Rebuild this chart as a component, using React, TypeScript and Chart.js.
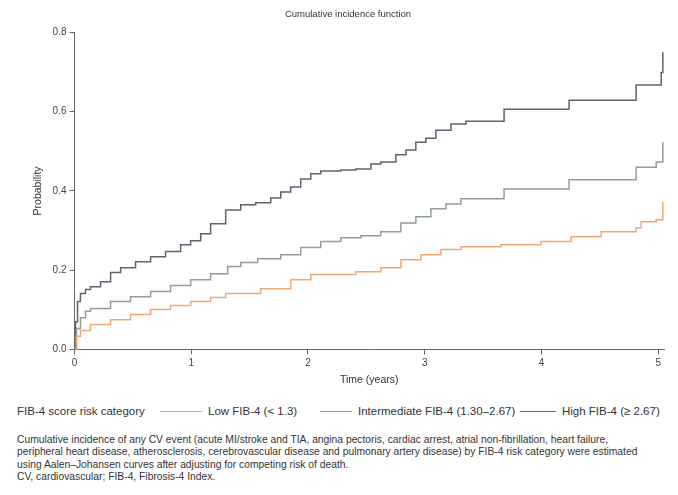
import React, { useEffect, useRef } from "react";
import { Chart, registerables } from "chart.js";

Chart.register(...registerables);

const chartTitle = "Cumulative incidence function";
const xTitle = "Time (years)";
const yTitle = "Probability";
const xTicks = [0, 1, 2, 3, 4, 5];
const yTicks = [0, 0.2, 0.4, 0.6, 0.8];

const highTime = [0, 0.009, 0.026, 0.051, 0.094, 0.137, 0.223, 0.309, 0.395, 0.523, 0.652, 0.78, 0.909, 0.995, 1.081, 1.166, 1.295, 1.424, 1.552, 1.681, 1.767, 1.852, 1.938, 2.024, 2.11, 2.281, 2.41, 2.539, 2.624, 2.753, 2.839, 2.924, 3.01, 3.096, 3.225, 3.353, 3.679, 3.68, 4.237, 4.811, 4.94, 5.026, 5.04];
const highCif = [0, 0.07, 0.121, 0.141, 0.151, 0.158, 0.171, 0.194, 0.206, 0.221, 0.234, 0.247, 0.264, 0.274, 0.292, 0.317, 0.352, 0.365, 0.37, 0.382, 0.397, 0.41, 0.43, 0.443, 0.45, 0.453, 0.455, 0.468, 0.473, 0.491, 0.503, 0.523, 0.533, 0.553, 0.569, 0.576, 0.579, 0.606, 0.629, 0.667, 0.667, 0.699, 0.75];

const intTime = [0, 0.017, 0.051, 0.094, 0.137, 0.309, 0.48, 0.652, 0.823, 0.995, 1.166, 1.312, 1.424, 1.569, 1.767, 1.938, 2.11, 2.281, 2.453, 2.624, 2.796, 2.924, 3.053, 3.182, 3.31, 3.679, 3.68, 4.237, 4.811, 4.983, 5.04];
const intCif = [0, 0.053, 0.08, 0.096, 0.103, 0.121, 0.133, 0.146, 0.161, 0.176, 0.191, 0.209, 0.219, 0.229, 0.239, 0.257, 0.272, 0.282, 0.287, 0.297, 0.319, 0.335, 0.355, 0.367, 0.38, 0.385, 0.405, 0.428, 0.46, 0.473, 0.523];

const lowTime = [0, 0.017, 0.051, 0.137, 0.309, 0.48, 0.652, 0.823, 0.995, 1.166, 1.295, 1.595, 1.852, 2.024, 2.41, 2.624, 2.796, 2.967, 3.139, 3.31, 3.653, 3.997, 4.254, 4.511, 4.811, 4.854, 4.983, 5.04];
const lowCif = [0, 0.033, 0.048, 0.063, 0.075, 0.088, 0.101, 0.111, 0.121, 0.131, 0.141, 0.153, 0.176, 0.189, 0.196, 0.206, 0.226, 0.239, 0.252, 0.259, 0.264, 0.272, 0.284, 0.297, 0.307, 0.322, 0.327, 0.372];

const legendTitle = "FIB-4 score risk category";
const seriesNames = ["Low FIB-4 (< 1.3)", "Intermediate FIB-4 (1.30\u20132.67)", "High FIB-4 (\u2265 2.67)"];
const seriesColors = ["#f2a779", "#8f9f92", "#5b6470"];

const footnoteLines = [
  "Cumulative incidence of any CV event (acute MI/stroke and TIA, angina pectoris, cardiac arrest, atrial non-fibrillation, heart failure,",
  "peripheral heart disease, atherosclerosis, cerebrovascular disease and pulmonary artery disease) by FIB-4 risk category were estimated",
  "using Aalen\u2013Johansen curves after adjusting for competing risk of death.",
  "CV, cardiovascular; FIB-4, Fibrosis-4 Index.",
];

const FONT = "'Liberation Sans', Arial, sans-serif";

// legend layout (px from container left)
const legendSampleLeft = [152, 312, 512];
const legendSampleWidth = [42, 32, 36];

function toPoints(t: number[], v: number[]) {
  return t.map((x, i) => ({ x, y: v[i] }));
}

export default function App() {
  const ref = useRef<HTMLCanvasElement>(null);
  useEffect(() => {
    if (!ref.current) return;
    const series = [
      { t: lowTime, v: lowCif },
      { t: intTime, v: intCif },
      { t: highTime, v: highCif },
    ];
    const chart = new Chart(ref.current, {
      type: "line",
      data: {
        datasets: series.map((s, i) => ({
          label: seriesNames[i],
          data: toPoints(s.t, s.v),
          borderColor: seriesColors[i],
          borderWidth: 1.5,
          pointRadius: 0,
          stepped: true,
          fill: false,
        })),
      },
      options: {
        animation: false,
        responsive: false,
        maintainAspectRatio: false,
        layout: { padding: { left: 24, right: 6, top: 0, bottom: 0 } },
        plugins: {
          legend: { display: false },
          tooltip: { enabled: false },
          title: {
            display: true,
            text: chartTitle,
            color: "#333",
            font: { family: FONT, size: 9.5, weight: "normal" },
            padding: { top: 1, bottom: 12 },
          },
        },
        scales: {
          x: {
            type: "linear",
            min: 0,
            max: 5.05,
            afterBuildTicks: (axis: any) => {
              axis.ticks = xTicks.map((v) => ({ value: v }));
            },
            ticks: {
              color: "#444",
              font: { family: FONT, size: 10 },
              padding: 3,
              maxRotation: 0,
              callback: (v: any) => String(v),
            },
            grid: { display: true, drawOnChartArea: false, drawTicks: true, tickLength: 5, color: "#666" },
            border: { display: true, color: "#666", width: 1 },
            title: { display: true, text: xTitle, color: "#333", font: { family: FONT, size: 10.5 }, padding: { top: 1, bottom: 0 } },
          },
          y: {
            type: "linear",
            min: 0,
            max: 0.8,
            afterBuildTicks: (axis: any) => {
              axis.ticks = yTicks.map((v) => ({ value: v }));
            },
            ticks: {
              color: "#444",
              font: { family: FONT, size: 10 },
              padding: 3,
              callback: (v: any) => Number(v).toFixed(1),
            },
            grid: { display: true, drawOnChartArea: false, drawTicks: true, tickLength: 5, color: "#666" },
            border: { display: true, color: "#666", width: 1 },
            title: { display: true, text: yTitle, color: "#333", font: { family: FONT, size: 10.5 }, padding: { top: 0, bottom: 5 } },
          },
        },
      },
    });
    return () => chart.destroy();
  }, []);

  return (
    <div style={{ width: 662, fontFamily: FONT, color: "#333" }}>
      <canvas ref={ref} width={662} height={378} style={{ display: "block" }} />
      <div style={{ position: "relative", height: 16, fontSize: 11.5, marginTop: 17, whiteSpace: "nowrap" }}>
        <span style={{ position: "absolute", left: 9, top: 0, lineHeight: "16px" }}>{legendTitle}</span>
        {seriesNames.map((n, i) => (
          <span key={n} style={{ position: "absolute", left: legendSampleLeft[i], top: 0, display: "inline-flex", alignItems: "center", height: 16 }}>
            <span style={{ display: "inline-block", width: legendSampleWidth[i], borderTop: `1.5px solid ${seriesColors[i]}`, marginRight: 6 }} />
            {n}
          </span>
        ))}
      </div>
      <div style={{ fontSize: 10.3, lineHeight: "12.4px", marginTop: 15, paddingLeft: 9 }}>
        {footnoteLines.map((l) => (
          <div key={l}>{l}</div>
        ))}
      </div>
    </div>
  );
}
